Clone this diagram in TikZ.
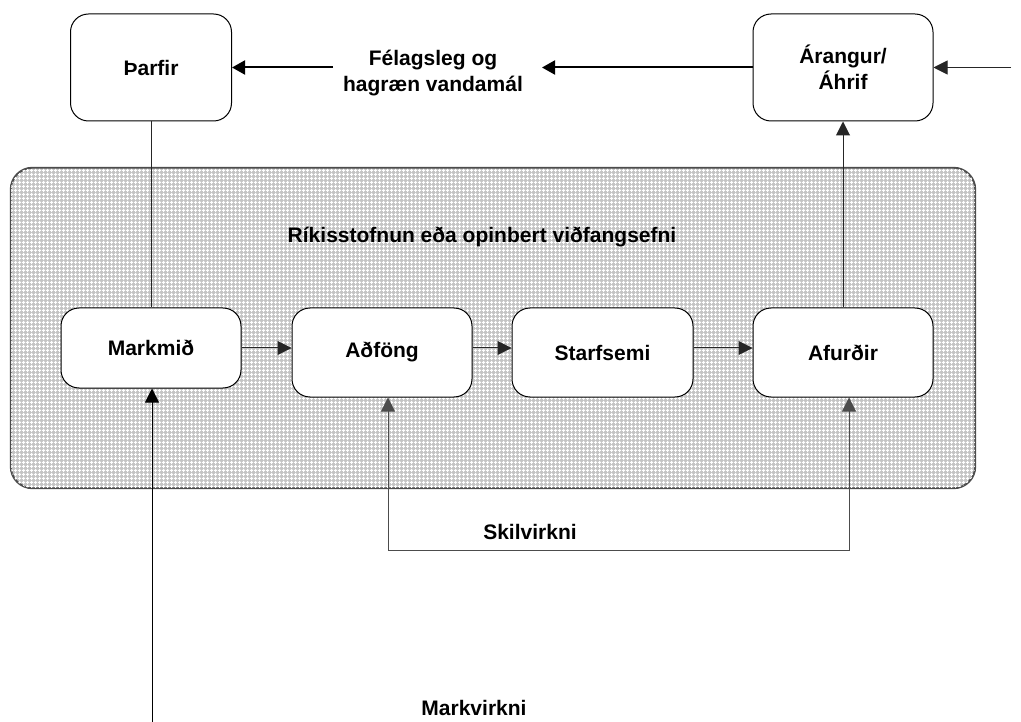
\documentclass[tikz,border=0pt]{standalone}
\usepackage{fontspec}
\setmainfont{Liberation Sans}
\usetikzlibrary{arrows.meta,calc,patterns.meta}
\begin{document}
\begin{tikzpicture}[x=1pt,y=-1pt,
  lbl/.style={font=\bfseries\fontsize{21}{26}\selectfont, align=center, inner sep=0pt, text=black},
  box/.style={lbl, draw=black, line width=1pt, rounded corners=18pt, fill=white},
  orgbox/.style={draw=black!70, line width=1.2pt, rounded corners=22pt},
  conn/.style={draw=black!85, line width=1pt, -{Triangle[length=14pt,width=14pt]}},
  bigconn/.style={draw=black, line width=2pt, -{Triangle[length=13pt,width=14pt]}},
  plain/.style={draw=black!85, line width=1pt}
]
\useasboundingbox (0,0) rectangle (1021,722);
\fill[white] (0,0) rectangle (1021,722);

% organisation container
\node[orgbox, fill={rgb,255:red,196;green,196;blue,196}, minimum width=964pt, minimum height=320pt] (org) at (493,328) {};
\fill[pattern={Hatch[angle=0,distance=4pt,line width=1.2pt]}, pattern color=white, rounded corners=22pt]
  (org.north west) rectangle (org.south east);
\draw[orgbox] (org.north west) rectangle (org.south east);
\node[lbl] (orglbl) at (482,237) {Ríkisstofnun eða opinbert viðfangsefni};

% top row
\node[box, minimum width=161pt, minimum height=107pt] (tharfir) at (151,67.5) {Þarfir};
\node[box, minimum width=180pt, minimum height=107pt] (arangur) at (843,67.5) {Árangur/\\Áhrif};
\node[lbl] (vanda) at (433,73) {Félagsleg og\\hagræn vandamál};

% process row
\node[box, minimum width=180pt, minimum height=80pt] (markmid) at (151,348) {Markmið};
\node[box, minimum width=180pt, minimum height=89pt] (adfong) at (382,352.5) {Aðföng};
\node[box, minimum width=181pt, minimum height=89pt] (starf) at (602.5,352.5) {Starfsemi};
\node[box, minimum width=180pt, minimum height=89pt] (afurdir) at (843,352.5) {Afurðir};

% labels
\node[lbl] (skil) at (530,532) {Skilvirkni};
\node[lbl] (markv) at (474,708) {Markvirkni};

% free ends
\coordinate (p1) at (542,67.5);
\coordinate (p2) at (333,67.5);
\coordinate (ext) at (1011,67.5);
\coordinate (mvstart) at (152,722);
\coordinate (s1) at (388,550);
\coordinate (s2) at (849,550);

% connectors
\draw[bigconn] (arangur.west) -- (p1);
\draw[bigconn] (p2) -- (tharfir.east);
\draw[conn] (ext) -- (arangur.east);
\draw[plain] (tharfir.south) -- (markmid.north);
\draw[conn] (afurdir.north) -- (arangur.south);
\draw[conn] (markmid.east) -- (adfong.west |- markmid.east);
\draw[conn] (adfong.east |- markmid.east) -- (starf.west |- markmid.east);
\draw[conn] (starf.east |- markmid.east) -- (afurdir.west |- markmid.east);
\draw[conn, draw=black] (mvstart) -- (markmid.south -| mvstart);
\draw[draw=black!70, line width=1pt, {Triangle[length=14pt,width=14pt]}-{Triangle[length=14pt,width=14pt]}]
  (adfong.south -| s1) -- (s1) -- (s2) -- (afurdir.south -| s2);
\end{tikzpicture}
\end{document}
